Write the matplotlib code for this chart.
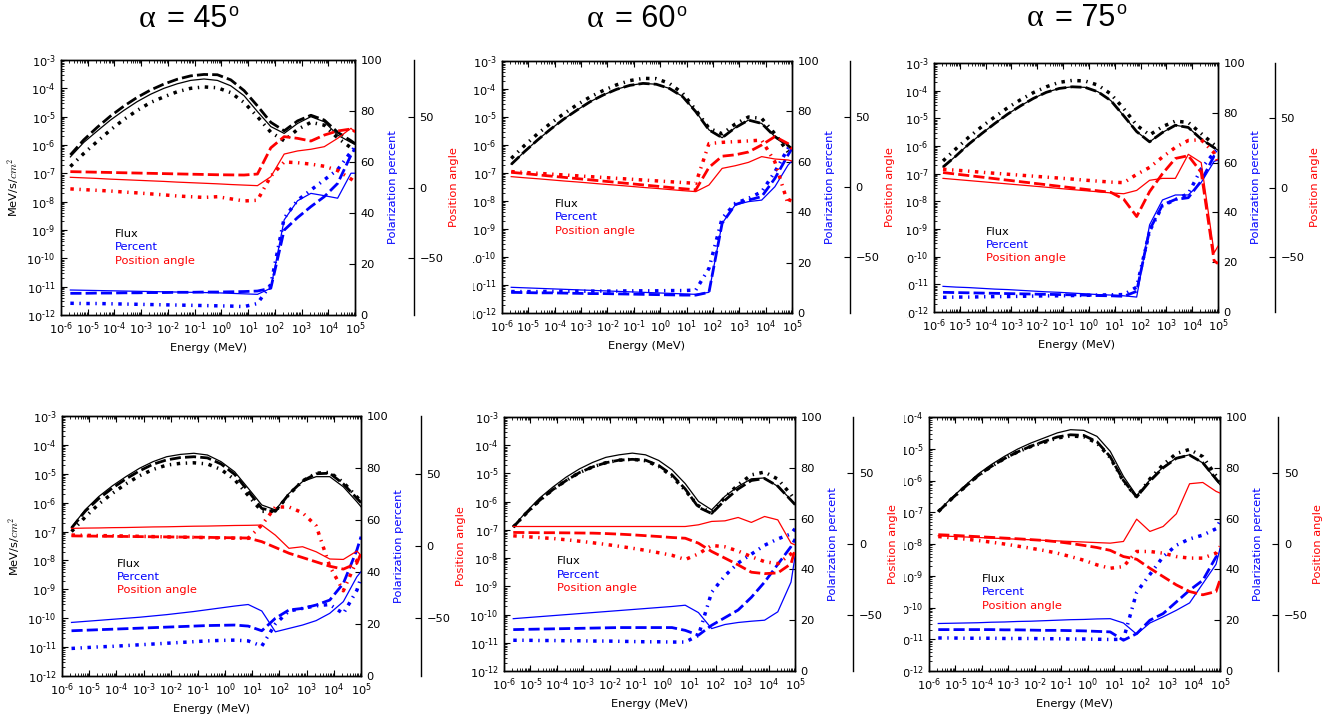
import numpy as np
import matplotlib
matplotlib.use("Agg")
import matplotlib.pyplot as plt
from matplotlib.ticker import LogLocator, NullFormatter, NullLocator, FuncFormatter
from matplotlib.transforms import Bbox

plt.rcParams.update({
    "font.family": ["DejaVu Sans"],
    "font.size": 8.2,
    "mathtext.fontset": "cm",
    "xtick.direction": "in",
    "ytick.direction": "in",
    "xtick.major.size": 4, "xtick.minor.size": 2,
    "ytick.major.size": 4, "ytick.minor.size": 2,
    "xtick.major.pad": 4, "ytick.major.pad": 4,
    "xtick.top": True,
    "lines.scale_dashes": False,
    "axes.linewidth": 1.0,
})

W, H = 1336, 717
fig = plt.figure(figsize=(W / 100, H / 100), dpi=100, facecolor="white")

# ---------------------------------------------------------------- data
# energy grid (log10 MeV)
log_energy = [-5.65, -5.15, -4.65, -4.15, -3.65, -3.15, -2.65, -2.15, -1.65,
              -1.15, -0.65, -0.15, 0.35, 0.85, 1.35, 1.85, 2.35, 2.85, 3.35,
              3.85, 4.35, 4.85, 5.0]
energy = 10 ** np.array(log_energy)

# each tuple: (solid, dashed, dash-dot)
# flux given as log10(MeV/s/cm^2), polarization in percent, angle in degrees

# --- alpha = 45, top
flux_45a = (
    [-6.42, -5.91, -5.51, -5.12, -4.78, -4.47, -4.21, -4.00, -3.84, -3.72, -3.67, -3.72,
     -3.91, -4.26, -4.82, -5.35, -5.59, -5.24, -5.00, -5.18, -5.65, -5.91, -5.98],
    [-6.35, -5.82, -5.38, -4.98, -4.63, -4.32, -4.06, -3.85, -3.68, -3.56, -3.51, -3.52,
     -3.70, -4.08, -4.62, -5.20, -5.50, -5.15, -4.95, -5.12, -5.55, -5.85, -5.95],
    [-6.76, -6.30, -5.88, -5.47, -5.10, -4.78, -4.50, -4.30, -4.12, -4.00, -3.95, -3.98,
     -4.15, -4.50, -5.00, -5.55, -5.85, -5.45, -5.20, -5.30, -5.75, -6.10, -6.20])
pol_45a = (
    [9.8, 9.7, 9.6, 9.5, 9.4, 9.3, 9.2, 9.1, 9.0, 8.9, 8.8, 8.7, 8.5, 8.3, 8.1, 10.5,
     37.3, 44.8, 47.7, 46.8, 45.8, 55.6, 55.6],
    [8.5, 8.5, 8.6, 8.6, 8.7, 8.7, 8.8, 8.8, 8.9, 8.9, 9.0, 9.0, 9.1, 9.2, 9.4, 10.5,
     33.3, 38.2, 42.5, 46.4, 51.6, 62.7, 65.4],
    [4.6, 4.5, 4.5, 4.4, 4.3, 4.2, 4.1, 4.0, 3.9, 3.8, 3.7, 3.6, 3.5, 3.3, 4.5, 12.0,
     38.0, 45.0, 49.0, 53.0, 57.0, 64.0, 66.0])
ang_45a = (
    [7.2, 6.8, 6.4, 5.9, 5.5, 5.1, 4.7, 4.3, 3.8, 3.4, 3.0, 2.6, 2.1, 1.7, 1.3, 7.6,
     23.6, 25.8, 27.0, 28.8, 34.7, 41.8, 39.0],
    [11.2, 11.0, 10.8, 10.6, 10.4, 10.2, 10.0, 9.8, 9.6, 9.4, 9.2, 9.0, 8.9, 8.8, 9.5,
     28.0, 35.9, 34.7, 32.8, 37.0, 39.9, 41.3, 39.4],
    [-1.0, -1.5, -2.0, -2.5, -3.2, -3.8, -4.5, -5.2, -6.0, -6.5, -7.0, -6.5, -8.0, -9.5,
     -9.0, 8.0, 18.0, 17.5, 16.5, 15.0, 12.0, 6.0, 4.0])

# --- alpha = 60, top
flux_60a = (
    [-6.69, -6.24, -5.82, -5.43, -5.07, -4.75, -4.45, -4.21, -4.01, -3.87, -3.80, -3.83,
     -3.98, -4.27, -4.81, -5.46, -5.74, -5.38, -5.11, -5.23, -5.70, -6.02, -6.14],
    [-6.69, -6.24, -5.82, -5.43, -5.07, -4.75, -4.45, -4.21, -4.01, -3.87, -3.80, -3.83,
     -3.98, -4.27, -4.81, -5.46, -5.74, -5.38, -5.11, -5.23, -5.70, -6.02, -6.14],
    [-6.48, -6.02, -5.60, -5.22, -4.88, -4.56, -4.28, -4.05, -3.85, -3.70, -3.62, -3.63,
     -3.80, -4.15, -4.75, -5.40, -5.60, -5.25, -5.00, -5.05, -5.60, -6.25, -6.30])
pol_60a = (
    [10.2, 10.0, 9.8, 9.6, 9.4, 9.2, 9.0, 8.8, 8.6, 8.4, 8.2, 8.0, 7.8, 7.6, 7.4, 8.2,
     35.6, 42.9, 44.2, 44.8, 50.1, 58.7, 60.3],
    [8.2, 8.1, 8.0, 8.0, 7.9, 7.8, 7.7, 7.7, 7.6, 7.5, 7.4, 7.3, 7.2, 7.1, 7.1, 8.2,
     35.6, 43.0, 44.8, 46.2, 53.4, 62.7, 65.3],
    [8.5, 8.5, 8.5, 8.6, 8.6, 8.6, 8.7, 8.7, 8.7, 8.8, 8.8, 8.8, 8.9, 8.9, 9.1, 17.7,
     37.6, 43.5, 45.5, 48.1, 56.0, 65.3, 66.7])
ang_60a = (
    [7.4, 6.6, 5.9, 5.1, 4.3, 3.6, 2.8, 2.0, 1.3, 0.5, -0.3, -1.0, -1.8, -2.6, -3.3, 1.4,
     13.3, 15.2, 17.6, 21.7, 20.0, 19.3, 18.6],
    [10.5, 9.6, 8.7, 7.8, 6.9, 6.0, 5.1, 4.2, 3.3, 2.4, 1.5, 0.6, -0.3, -1.2, -2.0, 14.0,
     22.0, 23.0, 25.0, 30.0, 36.0, 31.0, 27.0],
    [11.0, 10.4, 9.8, 9.2, 8.6, 8.0, 7.4, 6.8, 6.2, 5.6, 5.0, 4.4, 3.8, 3.2, 2.6, 31.0,
     31.9, 32.4, 32.9, 33.5, 18.0, -12.0, -6.0])

# --- alpha = 75, top
flux_75a = (
    [-6.76, -6.36, -5.93, -5.55, -5.19, -4.85, -4.55, -4.28, -4.06, -3.92, -3.86, -3.88,
     -4.04, -4.36, -4.91, -5.48, -5.85, -5.51, -5.25, -5.33, -5.75, -6.06, -6.15],
    [-6.76, -6.36, -5.93, -5.55, -5.19, -4.85, -4.55, -4.28, -4.06, -3.92, -3.86, -3.88,
     -4.04, -4.36, -4.91, -5.48, -5.85, -5.51, -5.25, -5.33, -5.75, -6.06, -6.15],
    [-6.54, -6.10, -5.68, -5.30, -4.95, -4.62, -4.33, -4.07, -3.86, -3.70, -3.63, -3.65,
     -3.80, -4.12, -4.65, -5.25, -5.60, -5.30, -5.10, -5.15, -5.55, -5.95, -6.05])
pol_75a = (
    [10.3, 10.0, 9.8, 9.5, 9.2, 9.0, 8.7, 8.4, 8.1, 7.9, 7.6, 7.3, 7.0, 6.8, 6.5, 6.0,
     35.0, 45.0, 47.0, 47.0, 52.0, 60.5, 61.0],
    [7.9, 7.8, 7.7, 7.6, 7.5, 7.4, 7.3, 7.2, 7.1, 7.0, 6.9, 6.8, 6.6, 6.5, 6.3, 8.3,
     33.0, 43.0, 45.2, 45.9, 52.6, 62.7, 63.4],
    [5.9, 6.0, 6.0, 6.1, 6.2, 6.2, 6.3, 6.4, 6.5, 6.5, 6.6, 6.7, 6.8, 6.9, 7.0, 10.0,
     32.5, 42.6, 45.2, 47.5, 57.5, 64.0, 65.5])
ang_75a = (
    [6.6, 5.8, 5.0, 4.2, 3.4, 2.6, 1.8, 1.0, 0.2, -0.7, -1.5, -2.3, -3.1, -3.9, -4.5,
     -2.1, 5.2, 6.6, 6.6, 24.0, 18.0, -47.2, -42.4],
    [10.8, 9.7, 8.6, 7.5, 6.4, 5.3, 4.2, 3.1, 2.0, 0.9, -0.2, -1.3, -2.4, -3.5, -8.5,
     -21.0, -3.0, 10.0, 21.0, 23.0, 11.0, -53.0, -55.0],
    [13.2, 12.5, 11.8, 11.0, 10.3, 9.6, 8.9, 8.2, 7.5, 6.8, 6.1, 5.3, 4.6, 3.9, 3.5,
     9.5, 14.5, 22.0, 29.0, 34.0, 34.5, 25.0, 17.0])

# --- alpha = 45, bottom
flux_45b = (
    [-6.85, -6.25, -5.79, -5.42, -5.10, -4.81, -4.58, -4.41, -4.33, -4.29, -4.35, -4.58,
     -4.93, -5.50, -6.08, -6.25, -5.68, -5.27, -5.10, -5.10, -5.45, -5.97, -6.14],
    [-6.88, -6.30, -5.86, -5.50, -5.18, -4.90, -4.67, -4.52, -4.44, -4.41, -4.45, -4.66,
     -5.02, -5.60, -6.20, -6.30, -5.70, -5.25, -5.00, -4.98, -5.35, -5.85, -6.00],
    [-7.00, -6.50, -6.05, -5.68, -5.35, -5.07, -4.85, -4.70, -4.64, -4.62, -4.66, -4.85,
     -5.20, -5.75, -6.30, -6.30, -5.72, -5.25, -4.98, -4.95, -5.30, -5.80, -5.95])
pol_45b = (
    [20.6, 21.0, 21.4, 21.8, 22.2, 22.6, 23.1, 23.6, 24.2, 24.8, 25.5, 26.2, 26.9, 27.5,
     25.0, 17.0, 18.3, 19.6, 21.3, 24.1, 28.6, 38.2, 40.1],
    [17.4, 17.6, 17.8, 18.0, 18.2, 18.4, 18.6, 18.8, 19.0, 19.2, 19.4, 19.5, 19.6, 19.2,
     17.4, 22.2, 25.4, 26.0, 27.3, 29.2, 35.6, 48.5, 53.6],
    [10.6, 10.9, 11.2, 11.4, 11.7, 12.0, 12.3, 12.6, 12.9, 13.2, 13.5, 13.7, 13.8, 13.5,
     11.5, 20.0, 25.0, 26.0, 27.0, 27.5, 24.0, 33.0, 38.0])
ang_45b = (
    [12.2, 12.4, 12.5, 12.7, 12.8, 13.0, 13.2, 13.3, 13.5, 13.7, 13.8, 14.0, 14.2, 14.3,
     14.5, 7.5, -1.6, -0.5, -4.0, -9.0, -9.3, -3.5, -6.5],
    [7.0, 6.9, 6.8, 6.7, 6.6, 6.5, 6.4, 6.3, 6.2, 6.1, 6.0, 5.8, 5.7, 5.5, 3.0, -1.0,
     -5.0, -8.0, -11.0, -14.0, -16.0, -12.0, -5.0],
    [7.6, 7.4, 7.2, 7.1, 6.9, 6.7, 6.5, 6.3, 6.1, 6.0, 5.8, 5.6, 5.4, 5.3, 14.5, 27.0,
     27.0, 23.0, 14.0, -14.0, -31.0, -10.0, -6.0])

# --- alpha = 60, bottom
flux_60b = (
    [-6.88, -6.35, -5.87, -5.48, -5.13, -4.84, -4.61, -4.43, -4.34, -4.28, -4.34, -4.54,
     -4.87, -5.36, -5.99, -6.29, -5.81, -5.46, -5.19, -5.16, -5.46, -5.93, -6.11],
    [-6.90, -6.40, -5.95, -5.57, -5.25, -4.97, -4.77, -4.62, -4.53, -4.50, -4.53, -4.72,
     -5.05, -5.55, -6.20, -6.42, -5.95, -5.55, -5.25, -5.18, -5.45, -5.95, -6.10],
    [-6.90, -6.40, -5.95, -5.57, -5.25, -4.97, -4.77, -4.62, -4.53, -4.50, -4.55, -4.75,
     -5.10, -5.60, -6.15, -6.40, -5.85, -5.40, -5.05, -4.95, -5.20, -5.75, -5.95])
pol_60b = (
    [20.6, 21.0, 21.4, 21.8, 22.2, 22.6, 23.0, 23.4, 23.8, 24.2, 24.6, 25.0, 25.4, 25.9,
     23.0, 16.7, 18.3, 19.1, 19.6, 20.0, 23.3, 35.0, 45.0],
    [16.3, 16.4, 16.5, 16.6, 16.7, 16.8, 16.9, 17.0, 17.1, 17.1, 17.1, 17.1, 17.1, 16.0,
     14.1, 18.0, 21.0, 24.0, 29.0, 35.0, 42.0, 49.0, 52.0],
    [12.1, 12.1, 12.0, 12.0, 11.9, 11.9, 11.8, 11.8, 11.7, 11.6, 11.5, 11.5, 11.4, 11.4,
     14.0, 31.0, 37.5, 42.5, 46.0, 49.5, 52.0, 54.0, 56.0])
ang_60b = (
    [12.4, 12.4, 12.4, 12.4, 12.4, 12.4, 12.4, 12.4, 12.4, 12.4, 12.4, 12.4, 12.4, 12.4,
     13.6, 16.0, 16.4, 18.8, 15.3, 19.5, 17.1, 0.6, -0.6],
    [8.2, 8.1, 8.0, 8.0, 7.9, 7.8, 7.7, 7.4, 7.0, 6.5, 5.9, 5.3, 4.6, 4.1, 0.6, -5.3,
     -10.0, -14.8, -20.0, -21.0, -20.5, -14.0, -4.0],
    [5.8, 5.2, 4.5, 3.9, 3.0, 2.0, 0.9, -0.3, -1.6, -3.0, -4.5, -6.2, -8.0, -11.0, -7.0,
     -1.0, -2.0, -5.0, -9.0, -12.5, -14.0, -7.0, -3.0])

# --- alpha = 75, bottom
flux_75b = (
    [-6.97, -6.55, -6.17, -5.80, -5.50, -5.24, -5.01, -4.82, -4.66, -4.50, -4.40, -4.42,
     -4.61, -5.08, -5.87, -6.48, -5.98, -5.58, -5.29, -5.19, -5.45, -5.98, -6.13],
    [-6.98, -6.58, -6.21, -5.85, -5.56, -5.31, -5.10, -4.92, -4.77, -4.63, -4.56, -4.58,
     -4.78, -5.25, -6.00, -6.52, -6.02, -5.60, -5.30, -5.20, -5.44, -5.95, -6.10],
    [-6.98, -6.58, -6.21, -5.85, -5.56, -5.31, -5.10, -4.93, -4.80, -4.66, -4.60, -4.62,
     -4.82, -5.28, -6.02, -6.52, -5.95, -5.50, -5.15, -5.02, -5.25, -5.85, -6.00])
pol_75b = (
    [18.7, 18.8, 18.9, 19.0, 19.2, 19.3, 19.5, 19.6, 19.8, 20.0, 20.2, 20.3, 20.5, 20.6,
     18.9, 14.5, 18.9, 21.3, 23.9, 26.8, 34.4, 42.0, 48.2],
    [16.3, 16.3, 16.3, 16.3, 16.3, 16.2, 16.2, 16.1, 16.0, 16.0, 15.9, 15.8, 15.6, 15.4,
     12.1, 14.7, 20.0, 22.6, 27.2, 31.8, 35.7, 44.9, 46.3],
    [13.0, 13.0, 12.9, 12.9, 12.9, 12.8, 12.8, 12.8, 12.7, 12.7, 12.6, 12.6, 12.5, 12.4,
     12.5, 31.0, 38.0, 45.0, 49.5, 52.0, 53.5, 56.0, 59.0])
ang_75b = (
    [5.8, 5.4, 5.0, 4.6, 4.2, 3.8, 3.4, 3.0, 2.6, 2.2, 1.8, 1.4, 1.0, 0.6, 1.8, 17.6,
     8.9, 12.4, 21.4, 42.7, 43.6, 37.3, 36.1],
    [6.6, 6.2, 5.7, 5.2, 4.7, 4.2, 3.7, 3.1, 2.5, 1.6, 0.4, -1.0, -2.5, -4.5, -8.9,
     -10.8, -17.2, -23.1, -29.0, -33.7, -36.0, -33.7, -25.4],
    [5.3, 4.4, 3.5, 2.5, 1.3, 0.0, -1.5, -3.0, -4.6, -6.5, -8.9, -11.5, -14.8, -17.2,
     -16.0, -5.3, -5.3, -6.5, -8.9, -10.0, -10.0, -6.5, -1.8])

titles = ["45", "60", "75"]
legend_items = [("Flux", "k"), ("Percent", "b"), ("Position angle", "r")]

# ---------------------------------------------------------------- styling
STYLES = [dict(ls="-", lw=0.9),
          dict(ls=(0, (8, 3)), lw=2.0),
          dict(ls=(0, (2.5, 4, 1, 4)), lw=2.5)]


def decade_label(value, pos):
    # power-of-ten label with a short hyphen in the exponent
    exponent = int(round(np.log10(value)))
    return r"$\mathdefault{10^{%s}}$" % str(exponent).replace("-", "\u2010")


def px_rect(left, top, right, bottom):
    return [left / W, 1 - bottom / H, (right - left) / W, (bottom - top) / H]


def build_panel(rect, flux, pol, ang, ymax, show_flux_label, legend_xy):
    ax = fig.add_axes(px_rect(*rect))
    ax.set_xscale("log")
    ax.set_yscale("log")
    for vals, st in zip(flux, STYLES):
        ax.plot(energy, 10 ** np.asarray(vals), color="k", **st)
    ax.set_xlim(1e-6, 1e5)
    ax.set_ylim(1e-12, ymax)
    for axis in (ax.xaxis, ax.yaxis):
        axis.set_major_locator(LogLocator(base=10, numticks=30))
        axis.set_major_formatter(FuncFormatter(decade_label))
        axis.set_minor_locator(LogLocator(base=10, subs=np.arange(2, 10), numticks=30))
        axis.set_minor_formatter(NullFormatter())
    ax.set_xlabel("Energy (MeV)")
    if show_flux_label:
        ax.set_ylabel(r"MeV/s/$cm^2$")

    ax2 = ax.twinx()
    for vals, st in zip(pol, STYLES):
        ax2.plot(energy, vals, color="b", **st)
    ax2.set_ylim(0, 100)
    ax2.set_yticks([0, 20, 40, 60, 80, 100])
    ax2.yaxis.set_minor_locator(NullLocator())
    ax2.set_ylabel("Polarization percent", color="b")

    ax3 = ax.twinx()
    ax3.spines["right"].set_position(("axes", 1.2))
    for side in ("left", "top", "bottom"):
        ax3.spines[side].set_visible(False)
    for vals, st in zip(ang, STYLES):
        ax3.plot(energy, vals, color="r", **st)
    ax3.set_ylim(-90, 90)
    ax3.set_yticks([-50, 0, 50])
    ax3.yaxis.set_minor_locator(NullLocator())
    ax3.set_ylabel("Position angle", color="r")

    for i, (txt, col) in enumerate(legend_items):
        ax3.annotate(txt, xy=legend_xy, xycoords="axes fraction",
                     xytext=(0, -9.6 * i), textcoords="offset points",
                     color=col, ha="left", va="baseline")
    return ax


ax45a = build_panel((61, 60, 355, 315), flux_45a, pol_45a, ang_45a, 1e-3, True, (0.184, 0.306))
ax60a = build_panel((502, 61, 792, 313), flux_60a, pol_60a, ang_60a, 1e-3, False, (0.183, 0.42))
ax75a = build_panel((934, 63, 1218, 312), flux_75a, pol_75a, ang_75a, 1e-3, False, (0.183, 0.31))
ax45b = build_panel((62, 416, 361, 676), flux_45b, pol_45b, ang_45b, 1e-3, True, (0.184, 0.42))
ax60b = build_panel((504, 417, 795, 671), flux_60b, pol_60b, ang_60b, 1e-3, False, (0.182, 0.42))
ax75b = build_panel((929, 417, 1220, 671), flux_75b, pol_75b, ang_75b, 1e-4, False, (0.182, 0.35))

# column titles: alpha = NN degrees
for (x0, base), num in zip([(139, 27), (587, 27), (1027, 26)], titles):
    fig.text(x0 / W, 1 - base / H, "\u03b1", fontfamily="Liberation Serif",
             fontsize=23, va="baseline", ha="left")
    fig.text((x0 + 28) / W, 1 - base / H, "= " + num, fontfamily="Liberation Sans",
             fontsize=22, va="baseline", ha="left")
    fig.text((x0 + 89) / W, 1 - (base - 11.5) / H, "o", fontfamily="Liberation Sans",
             fontsize=13, va="baseline", ha="left")

# the wide flux labels of some panels are trimmed on their left side
fig.canvas.draw()
for ax, cut in [(ax60a, 473), (ax75a, 907), (ax75b, 904)]:
    box = Bbox([[cut, 0], [W, H]])
    for lab in ax.yaxis.get_ticklabels(which="major"):
        lab.set_clip_box(box)
        lab.set_clip_on(True)

fig.savefig("out.png", dpi=100, facecolor="white")
